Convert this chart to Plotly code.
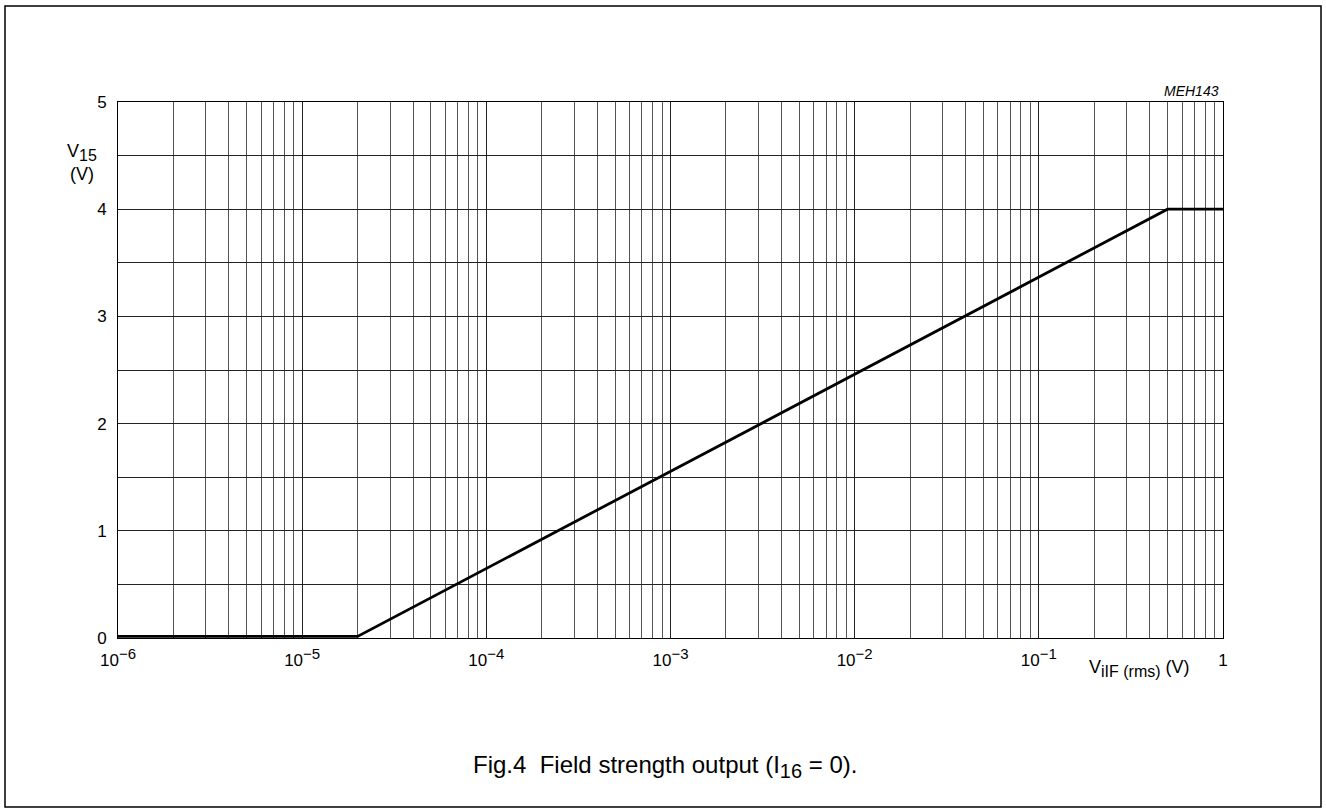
import plotly.graph_objects as go

# Data
x_vals = [1e-6, 2e-5, 0.5, 1.0]
y_vals = [0.015, 0.015, 4.0, 4.0]

x_tick_vals = [1e-6, 1e-5, 1e-4, 1e-3, 1e-2, 1e-1, 1]
x_exps = ["\u22126", "\u22125", "\u22124", "\u22123", "\u22122", "\u22121"]
y_tick_vals = [0, 1, 2, 3, 4, 5]
y_tick_text = ["0", "1", "2", "3", "4", "5"]

FONT = "Liberation Sans, Arial, sans-serif"
TICK = 17
SUBSZ = 15
TITLE = 18
TSUB = 16

x_tick_text = ["10<sup><span style='font-size:%dpx'>%s</span></sup>" % (SUBSZ, e) for e in x_exps] + ["1"]

fig = go.Figure()
fig.add_trace(go.Scatter(x=x_vals, y=y_vals, mode="lines",
                         line=dict(color="black", width=2.8), showlegend=False,
                         hoverinfo="skip"))

L, R, T, B = 118, 103, 102, 174
W, H = 1326, 812
pw, ph = W - L - R, H - T - B

def px(x):
    return (x - L) / pw

def py(y):
    return (H - B - y) / ph

fig.update_layout(
    width=W, height=H,
    margin=dict(l=L, r=R, t=T, b=B),
    paper_bgcolor="white", plot_bgcolor="white",
    font=dict(family=FONT, size=TICK, color="black"),
    xaxis=dict(type="log", range=[-6, 0], tickvals=x_tick_vals, ticktext=x_tick_text,
               showgrid=True, gridcolor="#222222", gridwidth=1,
               minor=dict(dtick="D1", showgrid=True, gridcolor="#555555", gridwidth=1, ticks=""),
               showline=True, linecolor="black", linewidth=1, mirror=True,
               ticks="outside", ticklen=7, tickcolor="rgba(0,0,0,0)",
               zeroline=False, tickfont=dict(size=TICK)),
    yaxis=dict(range=[0, 5], tickvals=y_tick_vals, ticktext=y_tick_text,
               showgrid=True, gridcolor="#222222", gridwidth=1,
               minor=dict(dtick=0.5, showgrid=True, gridcolor="#222222", gridwidth=1, ticks=""),
               showline=True, linecolor="black", linewidth=1, mirror=True,
               ticks="outside", ticklen=7, tickcolor="rgba(0,0,0,0)",
               zeroline=False, tickfont=dict(size=TICK)),
    shapes=[dict(type="rect", xref="paper", yref="paper",
                 x0=px(5), x1=px(1321), y0=py(807), y1=py(6),
                 line=dict(color="black", width=1.5), fillcolor="rgba(0,0,0,0)",
                 layer="below")],
    annotations=[
        dict(text="V<sub><span style='font-size:%dpx'>15</span></sub><br>(V)" % TSUB,
             xref="paper", yref="paper",
             x=px(82), y=py(162), xanchor="center", yanchor="middle",
             showarrow=False, font=dict(size=TITLE)),
        dict(text="V<sub><span style='font-size:%dpx'>iIF (rms)</span></sub> (V)" % TSUB,
             xref="paper", yref="paper",
             x=px(1139), y=py(668), xanchor="center", yanchor="middle",
             showarrow=False, font=dict(size=TITLE)),
        dict(text="<i>MEH143</i>", xref="paper", yref="paper",
             x=px(1221), y=py(91), xanchor="right", yanchor="middle",
             showarrow=False, font=dict(size=14)),
        dict(text="Fig.4  Field strength output (I<sub><span style='font-size:20px'>16</span></sub> = 0).",
             xref="paper", yref="paper",
             x=px(665), y=py(766), xanchor="center", yanchor="middle",
             showarrow=False, font=dict(size=24)),
    ],
)

fig.write_html("out.html", config={"displayModeBar": False},
               post_script="document.body.style.margin='0';")
